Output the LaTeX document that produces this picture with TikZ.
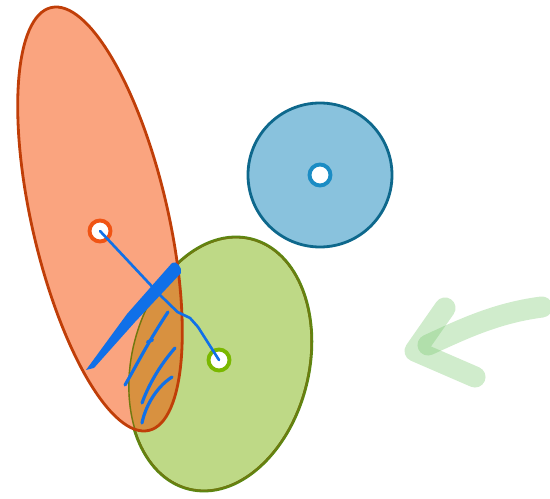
\documentclass[tikz,border=0pt]{standalone}
\usetikzlibrary{arrows.meta,positioning,calc}
\definecolor{orfill}{RGB}{250,164,127}
\definecolor{ordraw}{RGB}{192,62,8}
\definecolor{orring}{RGB}{240,84,20}
\definecolor{grfill}{RGB}{190,217,134}
\definecolor{grdraw}{RGB}{92,136,18}
\definecolor{grring}{RGB}{122,184,0}
\definecolor{blfill}{RGB}{137,194,221}
\definecolor{bldraw}{RGB}{14,104,140}
\definecolor{blring}{RGB}{26,140,196}
\definecolor{mixfill}{RGB}{216,145,64}
\definecolor{pen}{RGB}{16,112,232}
\definecolor{hint}{RGB}{120,200,110}
\tikzset{
  blob/.style  ={line width=1.6pt},
  dot/.style   ={circle,fill=white,line width=2.2pt,minimum size=4.2mm,inner sep=0pt},
  ink/.style   ={draw=pen,line width=1.8pt,line cap=round,line join=round},
  hintar/.style={draw=hint,opacity=0.35,line width=12pt,line cap=round,line join=round},
}
\begin{document}
\begin{tikzpicture}
  \useasboundingbox (0,0) rectangle (11,9.96);
  % shapes
  \path[blob,fill=grfill,draw=grdraw] (4.4,2.68) ellipse[x radius=1.78cm,y radius=2.58cm,rotate=-14];
  \path[blob,fill=orfill] (2.0,5.58) ellipse[x radius=1.36cm,y radius=4.34cm,rotate=13];
  \begin{scope}
    \clip (4.4,2.68) ellipse[x radius=1.78cm,y radius=2.58cm,rotate=-14];
    \fill[mixfill] (2.0,5.58) ellipse[x radius=1.36cm,y radius=4.34cm,rotate=13];
    \draw[blob,draw=grdraw!80!ordraw] (4.4,2.68) ellipse[x radius=1.78cm,y radius=2.58cm,rotate=-14];
  \end{scope}
  \draw[blob,draw=ordraw] (2.0,5.58) ellipse[x radius=1.36cm,y radius=4.34cm,rotate=13];
  \path[blob,fill=blfill,draw=bldraw] (6.4,6.46) circle[radius=1.44cm];

  % marks
  \coordinate (h1a) at (3.36,3.72); \coordinate (h1b) at (2.5,2.26);
  \coordinate (h2a) at (3.5,3.0);   \coordinate (h2b) at (2.84,1.9);
  \coordinate (h3a) at (3.44,2.42); \coordinate (h3b) at (2.84,1.5);
  \fill[pen] (1.72,2.56) -- (2.54,3.68) -- (3.44,4.70) to[out=40,in=70] (3.62,4.50)
    -- (2.70,3.52) -- (1.88,2.60) -- cycle;
  \draw[ink] (h1a) .. controls (2.95,3.1) and (2.7,2.6) .. (h1b);
  \draw[ink] (2.95,3.12) -- (3.05,3.16);
  \draw[ink] (h2a) .. controls (3.15,2.6) and (2.95,2.2) .. (h2b);
  \draw[ink] (h3a) .. controls (3.1,2.2) and (2.9,1.8) .. (h3b);

  % centres
  \node[dot,draw=orring] (red)   at (2.0,5.34) {};
  \node[dot,draw=grring] (green) at (4.38,2.76) {};
  \node[dot,draw=blring] (blue)  at (6.4,6.46) {};
  \draw[ink,line width=1.5pt] (red.center) -- (3.2,4.06) -- (3.55,3.72) -- (3.8,3.6) -- (3.96,3.42) -- (green.center);

  % arrow
  \coordinate (tail) at (10.84,3.82);
  \coordinate (tip)  at (8.56,3.06);
  \draw[hintar] (tail) .. controls (9.9,3.7) and (9.2,3.35) .. (tip);
  \draw[hintar] (8.9,3.8) -- (8.3,2.94) -- (9.5,2.42);
\end{tikzpicture}
\end{document}
